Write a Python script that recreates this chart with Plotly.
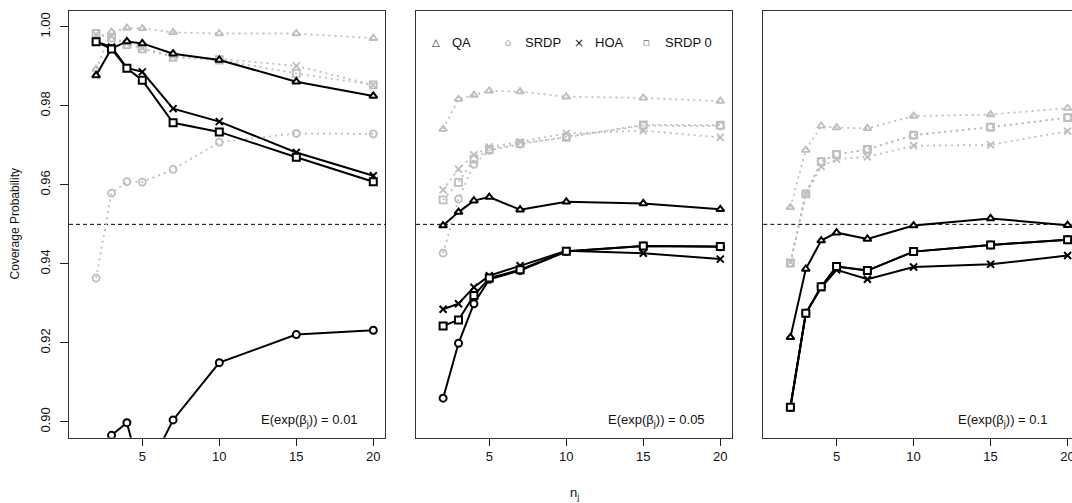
import plotly.graph_objects as go

# ---------------- data ----------------
n_j = [2, 3, 4, 5, 7, 10, 15, 20]

# Panel 1: E(exp(beta_j)) = 0.01
p1_QA_black = [0.9877, 0.9945, 0.9963, 0.9958, 0.9932, 0.9916, 0.9861, 0.9825]
p1_SRDP_black = [0.870, 0.8966, 0.8998, 0.885, 0.9005, 0.9150, 0.9221, 0.9232]
p1_HOA_black = [0.9962, 0.9949, 0.9896, 0.9886, 0.9793, 0.9760, 0.9682, 0.9623]
p1_SRDP0_black = [0.9962, 0.9944, 0.9895, 0.9865, 0.9757, 0.9734, 0.9670, 0.9608]
p1_QA_gray = [0.9893, 0.9987, 0.9997, 0.9996, 0.9986, 0.9983, 0.9983, 0.9971]
p1_SRDP_gray = [0.9364, 0.9579, 0.9608, 0.9607, 0.9639, 0.9708, 0.9730, 0.9729]
p1_HOA_gray = [0.9981, 0.9975, 0.9958, 0.9946, 0.9925, 0.9919, 0.9901, 0.9853]
p1_SRDP0_gray = [0.9983, 0.9972, 0.9955, 0.9944, 0.9923, 0.9916, 0.9882, 0.9853]

# Panel 2: E(exp(beta_j)) = 0.05
p2_QA_black = [0.9497, 0.9531, 0.9560, 0.9569, 0.9537, 0.9557, 0.9553, 0.9538]
p2_SRDP_black = [0.9060, 0.9199, 0.9299, 0.9361, 0.9383, 0.9431, 0.9445, 0.9443]
p2_HOA_black = [0.9285, 0.9299, 0.9341, 0.9370, 0.9395, 0.9433, 0.9427, 0.9412]
p2_SRDP0_black = [0.9243, 0.9258, 0.9320, 0.9364, 0.9385, 0.9432, 0.9445, 0.9444]
p2_QA_gray = [0.9741, 0.9817, 0.9827, 0.9838, 0.9836, 0.9823, 0.9820, 0.9812]
p2_SRDP_gray = [0.9427, 0.9564, 0.9652, 0.9687, 0.9703, 0.9722, 0.9750, 0.9749]
p2_HOA_gray = [0.9587, 0.9640, 0.9676, 0.9696, 0.9709, 0.9730, 0.9737, 0.9720]
p2_SRDP0_gray = [0.9562, 0.9606, 0.9665, 0.9690, 0.9705, 0.9720, 0.9752, 0.9751]

# Panel 3: E(exp(beta_j)) = 0.1
p3_QA_black = [0.9214, 0.9387, 0.9459, 0.9479, 0.9463, 0.9497, 0.9515, 0.9498]
p3_SRDP_black = [0.9037, 0.9275, 0.9342, 0.9393, 0.9383, 0.9431, 0.9448, 0.9461]
p3_HOA_black = [0.9037, 0.9275, 0.9340, 0.9385, 0.9361, 0.9392, 0.9399, 0.9421]
p3_SRDP0_black = [0.9037, 0.9275, 0.9342, 0.9393, 0.9383, 0.9431, 0.9448, 0.9461]
p3_QA_gray = [0.9543, 0.9688, 0.9749, 0.9745, 0.9743, 0.9774, 0.9778, 0.9794]
p3_SRDP_gray = [0.9402, 0.9577, 0.9659, 0.9677, 0.9690, 0.9726, 0.9746, 0.9770]
p3_HOA_gray = [0.9405, 0.9578, 0.9646, 0.9665, 0.9671, 0.9699, 0.9701, 0.9736]
p3_SRDP0_gray = [0.9402, 0.9577, 0.9659, 0.9677, 0.9690, 0.9726, 0.9746, 0.9770]

panel_labels = ["0.01", "0.05", "0.1"]
method_names = ["QA", "SRDP", "HOA", "SRDP 0"]
y_ticks = [0.90, 0.92, 0.94, 0.96, 0.98, 1.00]
x_ticks = [5, 10, 15, 20]
nominal = 0.95

# ---------------- figure ----------------
W, H = 1072, 503
FONT = "Liberation Sans, Arial, Helvetica, sans-serif"
GRAY = "#BEBEBE"

panels = [
    dict(black=[p1_QA_black, p1_SRDP_black, p1_HOA_black, p1_SRDP0_black],
         gray=[p1_QA_gray, p1_SRDP_gray, p1_HOA_gray, p1_SRDP0_gray]),
    dict(black=[p2_QA_black, p2_SRDP_black, p2_HOA_black, p2_SRDP0_black],
         gray=[p2_QA_gray, p2_SRDP_gray, p2_HOA_gray, p2_SRDP0_gray]),
    dict(black=[p3_QA_black, p3_SRDP_black, p3_HOA_black, p3_SRDP0_black],
         gray=[p3_QA_gray, p3_SRDP_gray, p3_HOA_gray, p3_SRDP0_gray]),
]

open_symbols = ["triangle-up-open", "circle-open", "x-thin-open", "square-open"]
fill_symbols = ["triangle-up", "circle", "x-thin-open", "square"]
fill_colors = ["white", "white", "black", "white"]

# pixel layout of plot regions
px_left = [69, 416, 763.3]
px_right = [385, 731.7, 1072]
px_top, px_bottom = 11, 437.7
unit_px = 15.4
x0 = 0.24

fig = go.Figure()

for i, p in enumerate(panels):
    xa = "x" if i == 0 else f"x{i+1}"
    ya = "y" if i == 0 else f"y{i+1}"
    for k in range(4):
        fig.add_trace(go.Scatter(
            x=n_j, y=p["gray"][k], mode="lines+markers",
            xaxis=xa, yaxis=ya, showlegend=False,
            line=dict(color=GRAY, width=1.8, dash="2px,4px"),
            marker=dict(symbol=open_symbols[k], size=7, color=GRAY,
                        line=dict(color=GRAY, width=1.8)),
        ))
    for k in range(4):
        fig.add_trace(go.Scatter(
            x=n_j, y=p["black"][k], mode="lines+markers",
            xaxis=xa, yaxis=ya, showlegend=False,
            line=dict(color="black", width=2),
            marker=dict(symbol=fill_symbols[k], size=7, color=fill_colors[k],
                        line=dict(color="black", width=2)),
        ))

layout = dict(
    width=W, height=H, autosize=False,
    margin=dict(l=0, r=0, t=0, b=0, autoexpand=False),
    paper_bgcolor="white", plot_bgcolor="white",
    font=dict(family=FONT, size=13, color="black"),
    showlegend=False,
)

y_dom = [(H - px_bottom) / H, (H - px_top) / H]
for i in range(3):
    sx = "" if i == 0 else str(i + 1)
    width_px = px_right[i] - px_left[i]
    layout["xaxis" + sx] = dict(
        domain=[px_left[i] / W, px_right[i] / W],
        range=[x0, x0 + width_px / unit_px],
        anchor="y" + sx,
        tickvals=x_ticks, ticktext=[str(v) for v in x_ticks],
        ticks="outside", ticklen=7, tickwidth=1, tickcolor="#222",
        showline=True, linecolor="#333", linewidth=1, mirror=True,
        showgrid=False, zeroline=False, automargin=False,
        ticklabeloverflow="allow",
        tickfont=dict(family=FONT, size=13, color="#111"),
    )
    layout["yaxis" + sx] = dict(
        domain=y_dom, range=[0.896, 1.004],
        anchor="x" + sx,
        tickvals=y_ticks, ticktext=[f"{v:.2f}" for v in y_ticks],
        ticks="outside" if i == 0 else "", ticklen=8, tickwidth=1, tickcolor="#222",
        showticklabels=(i == 0), tickangle=-90,
        showline=True, linecolor="#333", linewidth=1, mirror=(i < 2),
        showgrid=False, zeroline=False, automargin=False,
        tickfont=dict(family=FONT, size=13, color="#111"),
        ticklabelstandoff=5,
    )

fig.update_layout(**layout)

# nominal level line
for i in range(3):
    sx = "" if i == 0 else str(i + 1)
    fig.add_shape(type="line", xref=("x" + sx) + " domain", yref="y" + sx,
                  x0=0, x1=1, y0=nominal, y1=nominal,
                  line=dict(color="black", width=1, dash="4px,3px"), layer="below")

# panel annotations
ann_right_px = [360, 707, 1049]
for i in range(3):
    fig.add_annotation(
        xref="paper", yref="paper", x=ann_right_px[i] / W, y=(H - 420.7) / H,
        xanchor="right", yanchor="middle", showarrow=False,
        text=f"E(exp(β<sub>j</sub>)) = {panel_labels[i]}",
        font=dict(family=FONT, size=13, color="#111"),
    )

# legend (inside panel 2)
leg_sym = ["△", "○", "×", "□"]
leg_sym_size = [10, 7, 12, 7]
leg_sym_px = [435.7, 508, 579, 646.7]
leg_txt_px = [450, 522.7, 593, 663]
leg_y = (H - 42.7) / H
for k in range(4):
    fig.add_annotation(xref="paper", yref="paper", x=leg_sym_px[k] / W, y=leg_y,
                       xanchor="center", yanchor="middle", showarrow=False,
                       text=leg_sym[k],
                       font=dict(family="DejaVu Sans", size=leg_sym_size[k], color="#222"))
    fig.add_annotation(xref="paper", yref="paper", x=leg_txt_px[k] / W, y=leg_y,
                       xanchor="left", yanchor="middle", showarrow=False,
                       text=method_names[k], font=dict(family=FONT, size=13, color="#111"))

# axis titles
fig.add_annotation(xref="paper", yref="paper", x=574 / W, y=(H - 493) / H,
                   xanchor="center", yanchor="middle", showarrow=False,
                   text="n<sub>j</sub>", font=dict(family=FONT, size=13, color="#111"))
fig.add_annotation(xref="paper", yref="paper", x=15 / W, y=(H - 224.4) / H,
                   xanchor="center", yanchor="middle", showarrow=False, textangle=-90,
                   text="Coverage Probability", font=dict(family=FONT, size=12, color="#111"))

fig.write_html("out.html")
